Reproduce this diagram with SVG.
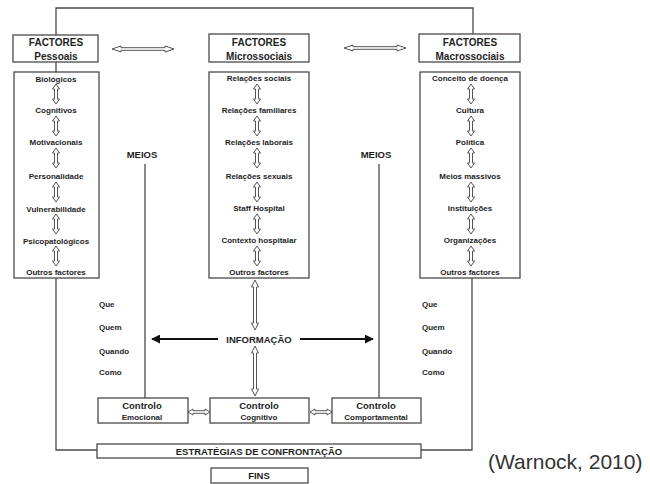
<svg xmlns="http://www.w3.org/2000/svg" width="650" height="484" viewBox="0 0 650 484">
  <style>
    .box { fill: #fff; stroke: #4a4a4a; stroke-width: 1.3; }
    .line { fill: none; stroke: #4a4a4a; stroke-width: 1.3; }
    .hollow { fill: #fff; stroke: #555; stroke-width: 1; }
    .info { fill: none; stroke: #111; stroke-width: 2; }
    .t { font-family: "Liberation Sans", Arial, sans-serif; font-weight: bold; fill: #1e1e1e; text-anchor: middle; }
    .hd { font-size: 10px; }
    .it { font-size: 8px; }
    .lb { font-size: 9.5px; }
    .q { font-family: "Liberation Sans", Arial, sans-serif; font-weight: bold; font-size: 8px; fill: #1e1e1e; }
    .cite { font-family: "Liberation Sans", Arial, sans-serif; font-size: 21px; fill: #333; }
  </style>
  <defs>
    <!-- outline double-headed arrows, drawn along +x from 0 to length -->
    <path id="dbl20" d="M0,0 L5,-3.5 L5,-1.5 L15,-1.5 L15,-3.5 L20,0 L15,3.5 L15,1.5 L5,1.5 L5,3.5 Z"/>
    <path id="dbl22" d="M0,0 L5,-3 L5,-1.3 L17,-1.3 L17,-3 L22,0 L17,3 L17,1.3 L5,1.3 L5,3 Z"/>
    <path id="dbl50" d="M0,0 L7,-3.5 L7,-1.5 L43,-1.5 L43,-3.5 L50,0 L43,3.5 L43,1.5 L7,1.5 L7,3.5 Z"/>
    <path id="dbl62" d="M0,0 L9,-3 L9,-1.3 L53,-1.3 L53,-3 L62,0 L53,3 L53,1.3 L9,1.3 L9,3 Z"/>
    <marker id="head" viewBox="0 0 10 10" refX="9" refY="5" markerWidth="4.5" markerHeight="4.5" orient="auto">
      <path d="M0,0 L10,5 L0,10 Z" fill="#111"/>
    </marker>
  </defs>

  <!-- connectors -->
  <g id="connectors">
    <!-- loop over the top joining personal and macrosocial factors -->
    <polyline class="line" points="56,35 56,8 473,8 473,35"/>
    <line class="line" x1="56" y1="62" x2="56" y2="72"/>
    <!-- side lines down to the coping strategies -->
    <polyline class="line" points="56,278 56,450 97,450"/>
    <polyline class="line" points="472,278 472,450 421,450"/>
    <!-- MEIOS lines -->
    <line class="line" x1="145" y1="164" x2="145" y2="398"/>
    <line class="line" x1="379" y1="164" x2="379" y2="398"/>
    <!-- header links -->
    <use href="#dbl62" class="hollow" transform="translate(112,49)"/>
    <use href="#dbl62" class="hollow" transform="translate(344,48)"/>
    <!-- information flow -->
    <use href="#dbl50" class="hollow" transform="translate(255,280) rotate(90)"/>
    <use href="#dbl50" class="hollow" transform="translate(255,346) rotate(90)"/>
    <line class="info" x1="218" y1="339" x2="152" y2="339" marker-end="url(#head)"/>
    <line class="info" x1="300" y1="339" x2="373" y2="339" marker-end="url(#head)"/>
    <!-- control links -->
    <use href="#dbl22" class="hollow" transform="translate(188,412)"/>
    <use href="#dbl22" class="hollow" transform="translate(310,412)"/>
  </g>

  <!-- personal factors -->
  <g id="pessoais">
    <rect class="box" x="13" y="35" width="85" height="27"/>
    <text class="t hd" x="56" y="46">FACTORES</text>
    <text class="t hd" x="56" y="59.5">Pessoais</text>
    <rect class="box" x="14" y="72" width="85" height="206"/>
    <text class="t it" x="56" y="82">Biológicos</text>
    <text class="t it" x="56" y="113">Cognitivos</text>
    <text class="t it" x="56" y="145">Motivacionais</text>
    <text class="t it" x="56" y="179">Personalidade</text>
    <text class="t it" x="56" y="212">Vulnerabilidade</text>
    <text class="t it" x="56" y="244">Psicopatológicos</text>
    <text class="t it" x="56" y="275">Outros factores</text>
    <g class="hollow">
      <use href="#dbl20" transform="translate(56,84) rotate(90)"/>
      <use href="#dbl20" transform="translate(56,116) rotate(90)"/>
      <use href="#dbl20" transform="translate(56,148) rotate(90)"/>
      <use href="#dbl20" transform="translate(56,182) rotate(90)"/>
      <use href="#dbl20" transform="translate(56,214) rotate(90)"/>
      <use href="#dbl20" transform="translate(56,246) rotate(90)"/>
    </g>
  </g>

  <!-- microsocial factors -->
  <g id="microssociais">
    <rect class="box" x="209" y="34" width="100" height="28"/>
    <text class="t hd" x="259" y="46">FACTORES</text>
    <text class="t hd" x="259" y="59.5">Microssociais</text>
    <rect class="box" x="209" y="72" width="100" height="206"/>
    <text class="t it" x="259" y="81">Relações sociais</text>
    <text class="t it" x="259" y="113">Relações familiares</text>
    <text class="t it" x="259" y="145">Relações laborais</text>
    <text class="t it" x="259" y="179">Relações sexuais</text>
    <text class="t it" x="259" y="211">Staff Hospital</text>
    <text class="t it" x="259" y="243">Contexto hospitalar</text>
    <text class="t it" x="259" y="275">Outros factores</text>
    <g class="hollow">
      <use href="#dbl20" transform="translate(257,84) rotate(90)"/>
      <use href="#dbl20" transform="translate(257,116) rotate(90)"/>
      <use href="#dbl20" transform="translate(257,148) rotate(90)"/>
      <use href="#dbl20" transform="translate(257,182) rotate(90)"/>
      <use href="#dbl20" transform="translate(257,214) rotate(90)"/>
      <use href="#dbl20" transform="translate(257,246) rotate(90)"/>
    </g>
  </g>

  <!-- macrosocial factors -->
  <g id="macrossociais">
    <rect class="box" x="419" y="34" width="101" height="28"/>
    <text class="t hd" x="470" y="46">FACTORES</text>
    <text class="t hd" x="470" y="59.5">Macrossociais</text>
    <rect class="box" x="420" y="72" width="100" height="206"/>
    <text class="t it" x="470" y="81">Conceito de doença</text>
    <text class="t it" x="470" y="113">Cultura</text>
    <text class="t it" x="470" y="145">Política</text>
    <text class="t it" x="470" y="179">Meios massivos</text>
    <text class="t it" x="470" y="211">Instituições</text>
    <text class="t it" x="470" y="243">Organizações</text>
    <text class="t it" x="470" y="275">Outros factores</text>
    <g class="hollow">
      <use href="#dbl20" transform="translate(471,84) rotate(90)"/>
      <use href="#dbl20" transform="translate(471,116) rotate(90)"/>
      <use href="#dbl20" transform="translate(471,148) rotate(90)"/>
      <use href="#dbl20" transform="translate(471,182) rotate(90)"/>
      <use href="#dbl20" transform="translate(471,214) rotate(90)"/>
      <use href="#dbl20" transform="translate(471,246) rotate(90)"/>
    </g>
  </g>

  <g id="meios-esq">
    <text class="t lb" x="142" y="158">MEIOS</text>
  </g>
  <g id="meios-dir">
    <text class="t lb" x="376" y="158">MEIOS</text>
  </g>

  <g id="perguntas-esq">
    <text class="q" x="99" y="307">Que</text>
    <text class="q" x="99" y="330">Quem</text>
    <text class="q" x="99" y="354">Quando</text>
    <text class="q" x="99" y="375">Como</text>
  </g>
  <g id="perguntas-dir">
    <text class="q" x="422" y="307">Que</text>
    <text class="q" x="422" y="330">Quem</text>
    <text class="q" x="422" y="354">Quando</text>
    <text class="q" x="422" y="375">Como</text>
  </g>

  <g id="informacao">
    <text class="t lb" x="259" y="342.5">INFORMAÇÃO</text>
  </g>

  <g id="controlo-emocional">
    <rect class="box" x="98" y="398" width="90" height="25"/>
    <text class="t lb" x="142" y="409">Controlo</text>
    <text class="t it" x="142" y="420">Emocional</text>
  </g>
  <g id="controlo-cognitivo">
    <rect class="box" x="210" y="398" width="99" height="25"/>
    <text class="t lb" x="259" y="409">Controlo</text>
    <text class="t it" x="259" y="420">Cognitivo</text>
  </g>
  <g id="controlo-comportamental">
    <rect class="box" x="332" y="398" width="89" height="25"/>
    <text class="t lb" x="376" y="409">Controlo</text>
    <text class="t it" x="376" y="420">Comportamental</text>
  </g>

  <g id="estrategias">
    <rect class="box" x="97" y="444" width="324" height="14"/>
    <text class="t lb" x="259" y="454.5">ESTRATÉGIAS DE CONFRONTAÇÃO</text>
  </g>

  <g id="fins">
    <rect class="box" x="211" y="468" width="97" height="15"/>
    <text class="t lb" x="259" y="479">FINS</text>
  </g>

  <text class="cite" x="488" y="469">(Warnock, 2010)</text>
</svg>
